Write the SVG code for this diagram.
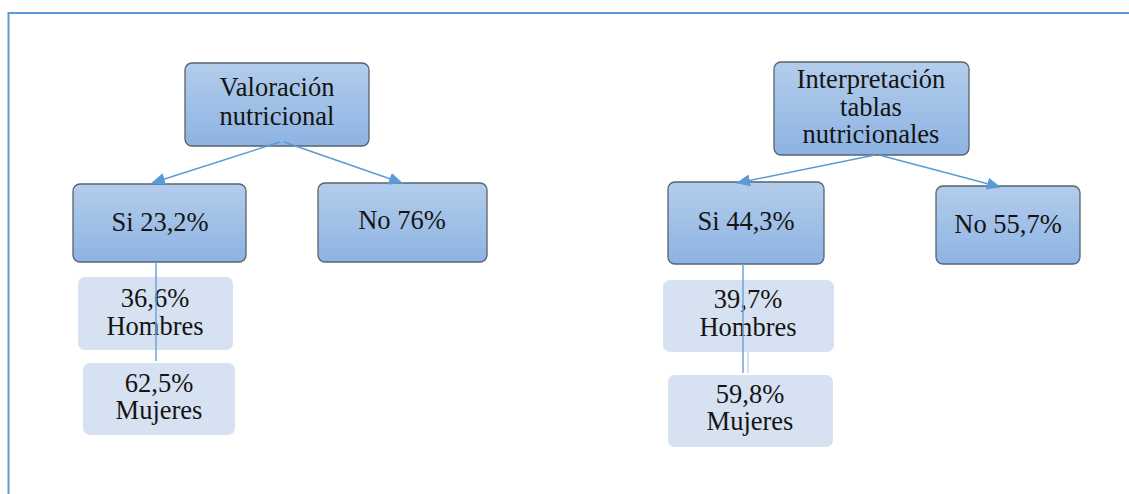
<svg xmlns="http://www.w3.org/2000/svg" width="1129" height="494" viewBox="0 0 1129 494">
  <defs>
    <linearGradient id="boxFill" x1="0" y1="0" x2="0" y2="1">
      <stop offset="0" stop-color="#B3CDEC"/>
      <stop offset="1" stop-color="#8DB3E2"/>
    </linearGradient>
    <marker id="arrow" viewBox="0 0 14 12" refX="13" refY="6" markerWidth="14" markerHeight="12" markerUnits="userSpaceOnUse" orient="auto">
      <path d="M0,0 L14,6 L0,12 Z" fill="#5B9BD5"/>
    </marker>
  </defs>
  <style>
    .main { fill: url(#boxFill); stroke: #56636F; stroke-width: 1.3; }
    .sub { fill: #D6E1F1; stroke: none; }
    text { font-size: 26.5px; fill: #141414; text-anchor: middle; }
    .edge { stroke: #5B9BD5; stroke-width: 1.5; fill: none; }
    .stem { stroke: #6FA3D8; stroke-width: 1.5; fill: none; }
  </style>

  <rect width="1129" height="494" fill="#FFFFFF"/>
  <!-- outer frame, open on the right and bottom -->
  <path d="M8.5,494 L8.5,13 L1129,13" fill="none" stroke="#5B9BD5" stroke-width="2"/>

  <g font-family="Liberation Serif, DejaVu Serif, serif">
  <g id="valoracion">
    <rect class="main" x="185" y="63" width="184" height="83" rx="7"/>
    <text x="277" y="96">Valoración</text>
    <text x="277" y="125">nutricional</text>
  </g>

  <g id="si-valoracion">
    <rect class="main" x="73" y="184" width="173" height="78" rx="7"/>
    <text x="160" y="231">Si 23,2%</text>
  </g>

  <g id="no-valoracion">
    <rect class="main" x="318" y="183" width="169" height="79" rx="7"/>
    <text x="402" y="229">No 76%</text>
  </g>

  <g id="hombres-valoracion">
    <rect class="sub" x="78" y="277" width="155" height="73" rx="7"/>
    <text x="155" y="307">36,6%</text>
    <text x="155" y="335">Hombres</text>
  </g>

  <g id="mujeres-valoracion">
    <rect class="sub" x="83" y="363" width="152" height="72" rx="7"/>
    <text x="159" y="392">62,5%</text>
    <text x="159" y="419">Mujeres</text>
  </g>

  <g id="interpretacion">
    <rect class="main" x="774" y="62" width="195" height="93" rx="7"/>
    <text x="871" y="88">Interpretación</text>
    <text x="871" y="116">tablas</text>
    <text x="871" y="143">nutricionales</text>
  </g>

  <g id="si-interpretacion">
    <rect class="main" x="668" y="182" width="156" height="82" rx="7"/>
    <text x="746" y="230">Si 44,3%</text>
  </g>

  <g id="no-interpretacion">
    <rect class="main" x="936" y="186" width="144" height="78" rx="7"/>
    <text x="1008" y="233">No 55,7%</text>
  </g>

  <g id="hombres-interpretacion">
    <rect class="sub" x="663" y="280" width="171" height="72" rx="7"/>
    <text x="748" y="308">39,7%</text>
    <text x="748" y="336">Hombres</text>
  </g>

  <g id="mujeres-interpretacion">
    <rect class="sub" x="668" y="375" width="165" height="72" rx="7"/>
    <text x="750" y="403">59,8%</text>
    <text x="750" y="430">Mujeres</text>
  </g>
  </g>

  <!-- connectors are drawn last so the stems show over the light boxes -->
  <g id="connectors">
    <line class="edge" x1="280" y1="142" x2="152" y2="183" marker-end="url(#arrow)"/>
    <line class="edge" x1="284" y1="142" x2="402" y2="183" marker-end="url(#arrow)"/>
    <line class="edge" x1="875" y1="155" x2="737" y2="183" marker-end="url(#arrow)"/>
    <line class="edge" x1="879" y1="155" x2="1000" y2="187" marker-end="url(#arrow)"/>
    <line class="stem" x1="156" y1="262" x2="156" y2="361"/>
    <line class="stem" x1="743" y1="264" x2="743" y2="373"/>
    <line class="stem" x1="748" y1="352" x2="748" y2="373" opacity="0.4"/>
  </g>
</svg>
